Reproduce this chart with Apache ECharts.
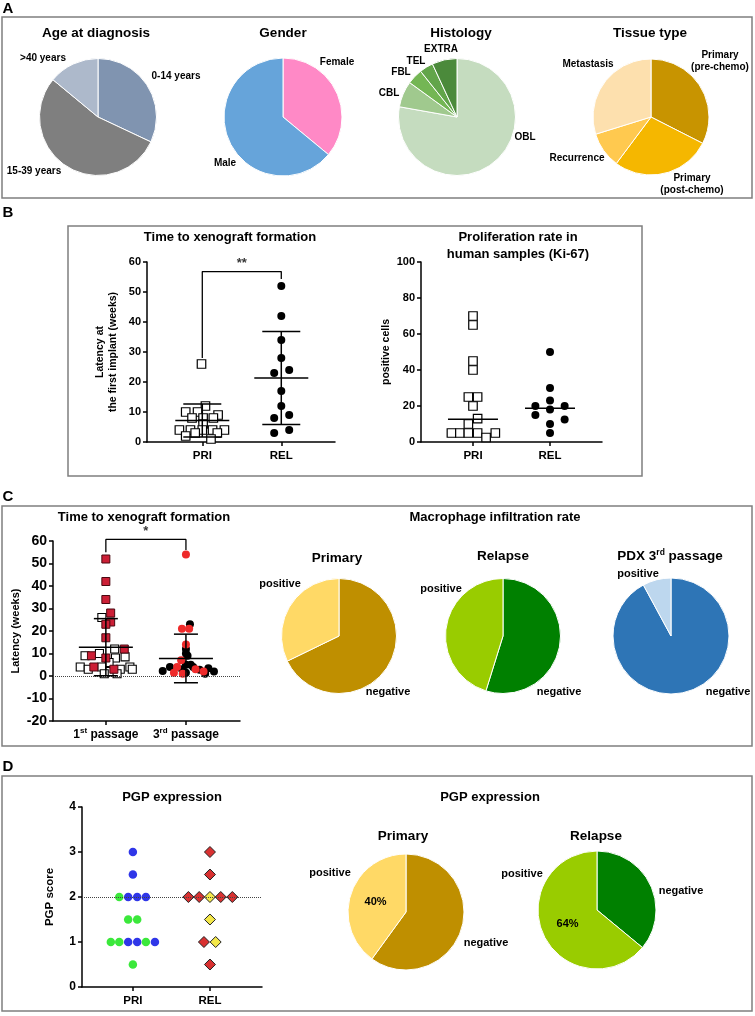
<!DOCTYPE html>
<html lang="en">
<head>
<meta charset="UTF-8">
<title>Figure</title>
<script src="https://cdn.jsdelivr.net/npm/echarts@6/dist/echarts.min.js"></script>
<style>
  html, body { margin: 0; padding: 0; background: #fff; }
  #chart { width: 755px; height: 1016px; }
</style>
</head>
<body>
<div id="chart"></div>
<script>
// ---------- data ----------
// A: cohort description (percent of patients)
const ageCats = ['0-14 years', '15-39 years', '>40 years'];
const ageVals = [32, 54, 14];
const genderCats = ['Female', 'Male'];
const genderVals = [36, 64];
const histoCats = ['OBL', 'CBL', 'FBL', 'TEL', 'EXTRA'];
const histoVals = [77.8, 7.2, 4.3, 3.8, 6.9];
const tissueCats = ['Primary\n(pre-chemo)', 'Primary\n(post-chemo)', 'Recurrence', 'Metastasis'];
const tissueVals = [32.5, 27.7, 10, 29.8];

// B: latency at first implant (weeks) and Ki-67 positive cells
const groupCats = ['PRI', 'REL'];
const latPri = [26, 12, 10, 10, 9, 8, 8, 8, 6, 4, 4, 4, 4, 4, 3, 3, 2, 1];
const latPriJit = [-0.01, 0.04, -0.21, -0.06, 0.2, -0.13, 0.01, 0.14, 0.01, -0.29, -0.15, 0, 0.13, 0.28, -0.09, 0.19, -0.21, 0.11];
const latRel = [52, 42, 34, 28, 24, 23, 17, 12, 9, 8, 4, 3];
const latRelJit = [0, 0, 0, 0, 0.1, -0.09, 0, 0, 0.1, -0.09, 0.1, -0.09];
const latMeanSd = [[7.2, 5.5], [21.3, 15.5]];
const latSigFeet = [28, 54.3];
const latSigTop = 56.8;

const kiPri = [70, 65, 45, 40, 25, 25, 20, 13, 10, 5, 5, 5, 5, 5, 2.5];
const kiPriJit = [0, 0, 0, 0, -0.06, 0.06, 0, 0.06, -0.06, -0.28, -0.17, -0.06, 0.06, 0.29, 0.17];
const kiRel = [50, 30, 23, 20, 20, 18, 15, 12.5, 10, 5];
const kiRelJit = [0, 0, 0, -0.19, 0.19, 0, -0.19, 0.19, 0, 0];
const kiMedian = [12.6, 18.7];

// C: latency by passage (weeks)
const passNum = ['1', '3'];
const passSup = ['st', 'rd'];
const p1Red = [52, 42, 34, 28, 24, 23, 17, 12, 9, 8, 4, 3];
const p1RedJit = [0, 0, 0, 0.06, 0.06, 0, 0, 0.23, -0.18, 0, -0.15, 0.1];
const p1Open = [26, 12, 10, 9, 8.5, 8, 6, 4, 4, 4, 3, 3, 3, 2, 1, 1];
const p1OpenJit = [-0.05, 0.11, -0.08, -0.26, 0.24, 0.12, 0.04, -0.32, -0.05, 0.3, 0.18, 0.33, -0.22, 0.05, -0.02, 0.14];
const p3Red = [54, 21, 21, 14, 7, 4, 3, 2, 1.5, 1];
const p3RedJit = [0, -0.05, 0.04, 0, -0.06, -0.11, 0.12, 0.22, -0.15, -0.04];
const p3Black = [23, 12, 10, 9, 5, 5, 4, 4, 3.4, 3, 2.8, 2.2, 2, 1.5, 1];
const p3BlackJit = [0.05, 0, 0, 0.02, 0, 0.06, -0.2, 0.09, 0.28, -0.05, 0.17, -0.29, 0.35, 0, 0.24];
const passMeanSd = [[12.8, 12.7], [7.8, 10.8]];
const passSigFeet = [55, 56];
const passSigTop = 60.7;

// C: macrophage infiltration (percent)
const posNegCats = ['negative', 'positive'];
const macroPrimary = [67.8, 32.2];
const macroRelapse = [54.8, 45.2];
const macroPdx = [92.1, 7.9];

// D: PGP score
const pgpPriBlue = [3, 2.5, 2, 2, 2, 1, 1, 1];
const pgpPriBlueJit = [0, 0, -0.061, 0.056, 0.169, -0.061, 0.056, 0.286];
const pgpPriGreen = [2, 1.5, 1.5, 1, 1, 1, 0.5];
const pgpPriGreenJit = [-0.177, -0.061, 0.056, -0.286, -0.177, 0.169, 0];
const pgpRelRed = [3, 2.5, 2, 2, 2, 2, 1, 0.5];
const pgpRelRedJit = [0, 0, -0.28, -0.14, 0.14, 0.29, -0.078, 0];
const pgpRelYellow = [2, 1.5, 1];
const pgpRelYellowJit = [0, 0, 0.074];
const pgpCut = 2;
const pgpPrimary = [60, 40];
const pgpRelapse = [36, 64];

// ---------- helpers ----------
const FONT = '"Liberation Sans", Arial, sans-serif';

function txt(x, y, text, size, extra) {
    return {
        type: 'text', x: x, y: y, silent: true, z: 10,
        style: Object.assign({
            text: text, fill: '#000', fontSize: size, fontWeight: 'bold',
            fontFamily: FONT, align: 'center', verticalAlign: 'middle'
        }, extra || {})
    };
}

function box(x, y, w, h) {
    return {
        type: 'rect', silent: true, z: 1,
        shape: {x: x, y: y, width: w, height: h},
        style: {fill: 'none', stroke: '#7f7f7f', lineWidth: 1.5}
    };
}

function pieSeries(center, r, names, vals, colors, pctIndex) {
    return {
        type: 'pie', center: center, radius: r, startAngle: 90, clockwise: true,
        silent: true, avoidLabelOverlap: false,
        label: {show: false}, labelLine: {show: false},
        itemStyle: {borderColor: '#fff', borderWidth: 1},
        data: names.map(function (n, i) {
            const item = {name: n, value: vals[i], itemStyle: {color: colors[i]}};
            if (i === pctIndex) {
                item.label = {
                    show: true, position: 'inside', color: '#000', fontSize: 11,
                    fontWeight: 'bold', fontFamily: FONT,
                    formatter: function (p) { return Math.round(p.percent) + '%'; }
                };
            }
            return item;
        })
    };
}

function yAx(gi, min, max, interval, fontSize, name, nameGap, nameSize) {
    return {
        type: 'value', gridIndex: gi, min: min, max: max, interval: interval,
        axisLine: {show: true, onZero: false, lineStyle: {color: '#000', width: 1.5}},
        axisTick: {show: true, length: 4, lineStyle: {color: '#000', width: 1.5}},
        axisLabel: {color: '#000', fontWeight: 'bold', fontSize: fontSize, fontFamily: FONT, margin: 6},
        splitLine: {show: false},
        name: name, nameLocation: 'middle', nameGap: nameGap,
        nameTextStyle: {color: '#000', fontWeight: 'bold', fontSize: nameSize, fontFamily: FONT, lineHeight: nameSize + 3}
    };
}

function xAx(gi, min, max, fmt, fontSize, margin, rich) {
    return {
        type: 'value', gridIndex: gi, min: min, max: max,
        axisLine: {show: true, onZero: false, lineStyle: {color: '#000', width: 1.5}},
        axisTick: {show: true, length: 4, customValues: [1, 2], lineStyle: {color: '#000', width: 1.5}},
        axisLabel: {
            customValues: [1, 2], formatter: fmt, color: '#000', fontWeight: 'bold',
            fontSize: fontSize, fontFamily: FONT, margin: margin, rich: rich
        },
        splitLine: {show: false}
    };
}

function catFmt(cats) {
    return function (v) { return (v === 1 || v === 2) ? cats[v - 1] : ''; };
}

function dots(ai, cat, vals, jit, symbol, size, color, border, bw) {
    return {
        type: 'scatter', xAxisIndex: ai, yAxisIndex: ai, symbol: symbol, symbolSize: size,
        z: 3, silent: true,
        data: vals.map(function (v, i) { return [cat + jit[i], v]; }),
        itemStyle: {color: color, borderColor: border, borderWidth: bw, opacity: 1}
    };
}

function bars(ai, stats, meanHalf, capHalf) {
    return {
        type: 'custom', xAxisIndex: ai, yAxisIndex: ai, z: 6, silent: true, clip: false,
        data: stats.map(function (s, i) { return [i + 1, s[0], s[1]]; }),
        renderItem: function (params, api) {
            const x = api.value(0), m = api.value(1), sd = api.value(2);
            const pm = api.coord([x, m]);
            const st = {stroke: '#000', lineWidth: 1.5};
            const kids = [{type: 'line', shape: {x1: pm[0] - meanHalf, y1: pm[1], x2: pm[0] + meanHalf, y2: pm[1]}, style: st}];
            if (sd > 0) {
                const pt = api.coord([x, m + sd]), pb = api.coord([x, m - sd]);
                kids.push({type: 'line', shape: {x1: pt[0], y1: pt[1], x2: pb[0], y2: pb[1]}, style: st});
                kids.push({type: 'line', shape: {x1: pt[0] - capHalf, y1: pt[1], x2: pt[0] + capHalf, y2: pt[1]}, style: st});
                kids.push({type: 'line', shape: {x1: pb[0] - capHalf, y1: pb[1], x2: pb[0] + capHalf, y2: pb[1]}, style: st});
            }
            return {type: 'group', children: kids};
        }
    };
}

function bracket(ai, feet, top, mark) {
    return [{
        type: 'line', xAxisIndex: ai, yAxisIndex: ai, symbol: 'none', silent: true, z: 4, clip: false,
        lineStyle: {color: '#000', width: 1.3},
        data: [[1, feet[0]], [1, top], [2, top], [2, feet[1]]]
    }, {
        type: 'scatter', xAxisIndex: ai, yAxisIndex: ai, symbolSize: 1, silent: true, clip: false,
        itemStyle: {color: 'rgba(0,0,0,0)'},
        label: {show: true, position: 'top', distance: 1, formatter: mark, color: '#000',
                fontSize: 13, fontWeight: 'bold', fontFamily: FONT},
        data: [[1.5, top]]
    }];
}

function refLine(ai, yv) {
    return {
        type: 'line', xAxisIndex: ai, yAxisIndex: ai, data: [], silent: true,
        markLine: {
            silent: true, symbol: 'none', label: {show: false},
            lineStyle: {type: 'dotted', color: '#444', width: 1},
            data: [{yAxis: yv}]
        }
    };
}

// ---------- layout ----------
const ageColors = ['#8094b0', '#7f7f7f', '#adb9cb'];
const genderColors = ['#ff89c6', '#66a4da'];
const histoColors = ['#c5dcbf', '#a0c98e', '#74b654', '#62a54a', '#4b8a3b'];
const tissueColors = ['#c89400', '#f5b700', '#ffc94f', '#fde0ae'];
const goldColors = ['#bf8f00', '#ffd966'];
const greenColors = ['#008000', '#99cc00'];
const blueColors = ['#2e75b6', '#bdd7ee'];

const ageLabelXY = [[176, 76], [34, 171], [43, 58]];
const genderLabelXY = [[337, 62], [225, 163]];
const histoLabelXY = [[525, 137], [389, 93], [401, 72], [416, 61], [441, 49]];
const tissueLabelXY = [[720, 61], [692, 184], [577, 158], [588, 64]];
const macroPriLabelXY = [[388, 692], [280, 584]];
const macroRelLabelXY = [[559, 692], [441, 589]];
const macroPdxLabelXY = [[728, 692], [638, 574]];
const pgpPriLabelXY = [[486, 943], [330, 873]];
const pgpRelLabelXY = [[681, 891], [522, 874]];

function pieLabels(names, xy, size) {
    return names.map(function (n, i) {
        return txt(xy[i][0], xy[i][1], n, size, {lineHeight: 12.5});
    });
}

const graphics = [
    box(2, 17, 750, 181), box(68, 226, 574, 250), box(2, 506, 750, 240), box(2, 776, 750, 235),
    txt(8, 9, 'A', 15), txt(8, 213, 'B', 15), txt(8, 497, 'C', 15), txt(8, 767, 'D', 15),
    txt(96, 33, 'Age at diagnosis', 13.5), txt(283, 33, 'Gender', 13.5),
    txt(461, 33, 'Histology', 13.5), txt(650, 33, 'Tissue type', 13.5),
    txt(230, 237, 'Time to xenograft formation', 13),
    txt(518, 245.5, 'Proliferation rate in\nhuman samples (Ki-67)', 13, {lineHeight: 17}),
    txt(144, 517, 'Time to xenograft formation', 13),
    txt(495, 517, 'Macrophage infiltration rate', 13),
    txt(337, 558, 'Primary', 13.5), txt(503, 556, 'Relapse', 13.5),
    txt(670, 556, '{a|PDX 3}{b|rd}{a| passage}', 13.5, {
        rich: {
            a: {fontSize: 13.5, fontWeight: 'bold', fontFamily: FONT, fill: '#000', lineHeight: 16},
            b: {fontSize: 8.5, fontWeight: 'bold', fontFamily: FONT, fill: '#000', verticalAlign: 'top', lineHeight: 10}
        }
    }),
    txt(172, 797, 'PGP expression', 13), txt(490, 797, 'PGP expression', 13),
    txt(403, 836, 'Primary', 13.5), txt(596, 836, 'Relapse', 13.5)
].concat(
    pieLabels(ageCats, ageLabelXY, 10),
    pieLabels(genderCats, genderLabelXY, 10),
    pieLabels(histoCats, histoLabelXY, 10),
    pieLabels(tissueCats, tissueLabelXY, 10),
    pieLabels(posNegCats, macroPriLabelXY, 11),
    pieLabels(posNegCats, macroRelLabelXY, 11),
    pieLabels(posNegCats, macroPdxLabelXY, 11),
    pieLabels(posNegCats, pgpPriLabelXY, 11),
    pieLabels(posNegCats, pgpRelLabelXY, 11)
);

const passRich = {
    n: {fontSize: 12, fontWeight: 'bold', fontFamily: FONT, color: '#000', lineHeight: 16},
    s: {fontSize: 8, fontFamily: FONT, color: '#000', verticalAlign: 'top', lineHeight: 10}
};
function passFmt(v) {
    if (v !== 1 && v !== 2) return '';
    return '{n|' + passNum[v - 1] + '}{s|' + passSup[v - 1] + '}{n| passage}';
}

const option = {
    animation: false,
    backgroundColor: '#fff',
    grid: [
        {left: 147, top: 262, width: 188, height: 180, containLabel: false, outerBoundsMode: 'none'},
        {left: 421, top: 262, width: 181, height: 180, containLabel: false, outerBoundsMode: 'none'},
        {left: 53, top: 541, width: 187, height: 180, containLabel: false, outerBoundsMode: 'none'},
        {left: 82, top: 807, width: 180, height: 180, containLabel: false, outerBoundsMode: 'none'}
    ],
    xAxis: [
        xAx(0, 0.3, 2.68, catFmt(groupCats), 11.5, 8),
        xAx(1, 0.325, 2.675, catFmt(groupCats), 11.5, 8),
        xAx(2, 0.34, 2.675, passFmt, 12, 6, passRich),
        xAx(3, 0.34, 2.675, catFmt(groupCats), 11.5, 8)
    ],
    yAxis: [
        yAx(0, 0, 60, 10, 11, 'Latency at\nthe first implant (weeks)', 27, 10.5),
        yAx(1, 0, 100, 20, 11, 'positive cells', 23, 10.5),
        yAx(2, -20, 60, 10, 14, 'Latency (weeks)', 28, 11),
        yAx(3, 0, 4, 1, 12, 'PGP score', 25, 11.5)
    ],
    graphic: graphics,
    series: [
        pieSeries([98, 117], 58.5, ageCats, ageVals, ageColors),
        pieSeries([283, 117], 59, genderCats, genderVals, genderColors),
        pieSeries([457, 117], 58.5, histoCats, histoVals, histoColors),
        pieSeries([651, 117], 58, tissueCats, tissueVals, tissueColors),
        pieSeries([339, 636], 57.5, posNegCats, macroPrimary, goldColors),
        pieSeries([503, 636], 57.5, posNegCats, macroRelapse, greenColors),
        pieSeries([671, 636], 58, posNegCats, macroPdx, blueColors),
        pieSeries([406, 912], 58, posNegCats, pgpPrimary, goldColors, 1),
        pieSeries([597, 910], 59, posNegCats, pgpRelapse, greenColors, 1),

        dots(0, 1, latPri, latPriJit, 'rect', 8.5, '#fff', '#000', 1.2),
        dots(0, 2, latRel, latRelJit, 'circle', 8, '#000', '#000', 0),
        bars(0, latMeanSd, 27, 19),
        dots(1, 1, kiPri, kiPriJit, 'rect', 8.5, '#fff', '#000', 1.2),
        dots(1, 2, kiRel, kiRelJit, 'circle', 8, '#000', '#000', 0),
        bars(1, kiMedian.map(function (m) { return [m, 0]; }), 25, 0),

        refLine(2, 0),
        dots(2, 1, p1Open, p1OpenJit, 'rect', 8, '#fff', '#000', 1.1),
        dots(2, 1, p1Red, p1RedJit, 'rect', 8, '#cc1f36', '#4a0810', 1),
        dots(2, 2, p3Black, p3BlackJit, 'circle', 8, '#000', '#000', 0),
        dots(2, 2, p3Red, p3RedJit, 'circle', 8, '#ee2a2a', '#ee2a2a', 0),
        bars(2, passMeanSd, 27, 12),

        refLine(3, pgpCut),
        dots(3, 1, pgpPriBlue, pgpPriBlueJit, 'circle', 8.5, '#2f36e8', '#2f36e8', 0),
        dots(3, 1, pgpPriGreen, pgpPriGreenJit, 'circle', 8.5, '#3be83b', '#3be83b', 0),
        dots(3, 2, pgpRelRed, pgpRelRedJit, 'diamond', 11, '#d93131', '#222', 1),
        dots(3, 2, pgpRelYellow, pgpRelYellowJit, 'diamond', 11, '#f4e84a', '#222', 1)
    ].concat(
        bracket(0, latSigFeet, latSigTop, '**'),
        bracket(2, passSigFeet, passSigTop, '*')
    )
};

const chart = echarts.init(document.getElementById('chart'));
chart.setOption(option);
</script>
</body>
</html>
